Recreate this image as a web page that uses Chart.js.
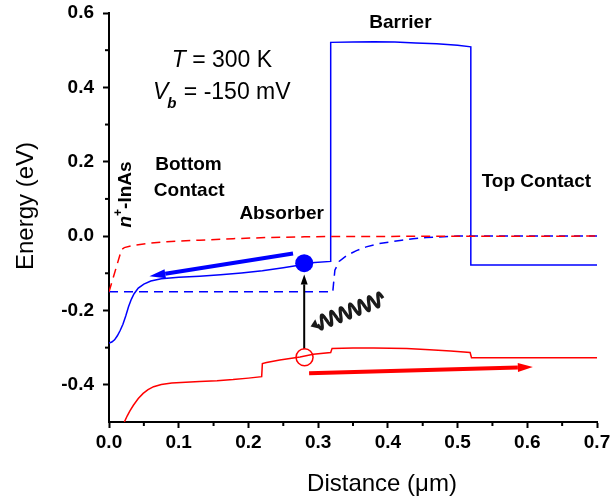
<!DOCTYPE html>
<html>
<head>
<meta charset="utf-8">
<script src="https://cdn.jsdelivr.net/npm/chart.js@4.4.1/dist/chart.umd.min.js"></script>
<style>
  body { margin: 0; background: #fff; }
  canvas { display: block; }
</style>
</head>
<body>
<canvas id="bandChart" width="611" height="501"></canvas>
<script>
const xTicks = [0, 0.1, 0.2, 0.3, 0.4, 0.5, 0.6, 0.7];
const yTicks = [-0.4, -0.2, 0, 0.2, 0.4, 0.6];
const xMinorTicks = [0.05, 0.15, 0.25, 0.35, 0.45, 0.55, 0.65];
const yMinorTicks = [-0.3, -0.1, 0.1, 0.3, 0.5];

// conduction band (blue solid)
const cbX = [0, 0.004, 0.008, 0.012, 0.016, 0.02, 0.024, 0.028, 0.032, 0.036, 0.042, 0.05, 0.06, 0.075, 0.1, 0.13, 0.16, 0.19, 0.22, 0.25, 0.27, 0.29, 0.318, 0.318, 0.35, 0.38, 0.41, 0.44, 0.47, 0.5, 0.519, 0.519, 0.7];
const cbY = [-0.288, -0.285, -0.279, -0.268, -0.254, -0.237, -0.215, -0.19, -0.17, -0.155, -0.14, -0.129, -0.121, -0.115, -0.111, -0.108, -0.104, -0.099, -0.093, -0.085, -0.079, -0.072, -0.068, 0.521, 0.522, 0.523, 0.522, 0.519, 0.517, 0.513, 0.509, -0.078, -0.078];

// electron quasi-Fermi level (blue dashed)
const efnX = [0, 0.321, 0.322, 0.324, 0.33, 0.341, 0.355, 0.369, 0.385, 0.402, 0.42, 0.436, 0.455, 0.47, 0.5, 0.7];
const efnY = [-0.15, -0.15, -0.13, -0.092, -0.068, -0.052, -0.039, -0.029, -0.021, -0.016, -0.011, -0.007, -0.004, -0.003, 0, 0];

// hole quasi-Fermi level (red dashed)
const efpX = [0, 0.018, 0.022, 0.035, 0.06, 0.083, 0.13, 0.178, 0.226, 0.28, 0.32, 0.7];
const efpY = [-0.15, -0.036, -0.031, -0.025, -0.019, -0.015, -0.011, -0.007, -0.004, -0.002, -0.001, 0];

// valence band (red solid)
const vbX = [0.022, 0.026, 0.03, 0.035, 0.042, 0.049, 0.056, 0.064, 0.075, 0.09, 0.11, 0.13, 0.155, 0.178, 0.2, 0.219, 0.22, 0.226, 0.245, 0.274, 0.293, 0.318, 0.32, 0.35, 0.38, 0.427, 0.46, 0.49, 0.518, 0.52, 0.7];
const vbY = [-0.5, -0.484, -0.47, -0.455, -0.437, -0.423, -0.413, -0.405, -0.399, -0.395, -0.393, -0.391, -0.389, -0.386, -0.382, -0.378, -0.343, -0.34, -0.333, -0.325, -0.318, -0.313, -0.302, -0.301, -0.301, -0.302, -0.306, -0.309, -0.313, -0.327, -0.327];

const BLUE = "#0000ff";
const RED = "#ff0000";
const FONT = "'Liberation Sans', Arial, sans-serif";

function toPoints(xs, ys) {
  return xs.map((x, i) => ({ x, y: ys[i] }));
}

function line(xs, ys, color, dash) {
  return {
    data: toPoints(xs, ys),
    showLine: true,
    borderColor: color,
    borderWidth: 1.5,
    borderDash: dash || [],
    pointRadius: 0,
    fill: false,
    tension: 0
  };
}

function arrow(ctx, x1, y1, x2, y2, width, headLen, headHalf, color) {
  const ang = Math.atan2(y2 - y1, x2 - x1);
  const bx = x2 - headLen * Math.cos(ang);
  const by = y2 - headLen * Math.sin(ang);
  ctx.save();
  ctx.strokeStyle = color;
  ctx.fillStyle = color;
  ctx.lineWidth = width;
  ctx.lineCap = "butt";
  ctx.beginPath();
  ctx.moveTo(x1, y1);
  ctx.lineTo(bx, by);
  ctx.stroke();
  ctx.beginPath();
  ctx.moveTo(x2, y2);
  ctx.lineTo(bx + headHalf * Math.sin(ang), by - headHalf * Math.cos(ang));
  ctx.lineTo(bx - headHalf * Math.sin(ang), by + headHalf * Math.cos(ang));
  ctx.closePath();
  ctx.fill();
  ctx.restore();
}

const annotations = {
  id: "annotations",
  afterDraw(chart) {
    const { ctx, chartArea } = chart;
    const sx = chart.scales.x;
    const sy = chart.scales.y;
    const px = (v) => sx.getPixelForValue(v);
    const py = (v) => sy.getPixelForValue(v);

    // minor ticks
    ctx.save();
    ctx.strokeStyle = "#000";
    ctx.lineWidth = 2;
    xMinorTicks.forEach((v) => {
      ctx.beginPath();
      ctx.moveTo(px(v), chartArea.bottom);
      ctx.lineTo(px(v), chartArea.bottom + 4);
      ctx.stroke();
    });
    yMinorTicks.forEach((v) => {
      ctx.beginPath();
      ctx.moveTo(chartArea.left, py(v));
      ctx.lineTo(chartArea.left - 4, py(v));
      ctx.stroke();
    });
    ctx.restore();

    // axis titles
    ctx.save();
    ctx.fillStyle = "#000";
    ctx.font = "24px " + FONT;
    ctx.textAlign = "center";
    ctx.textBaseline = "alphabetic";
    ctx.fillText("Distance (\u03bcm)", 382, 491);
    ctx.translate(33, 206);
    ctx.rotate(-Math.PI / 2);
    ctx.fillText("Energy (eV)", 0, 0);
    ctx.restore();

    // excitation arrow, photon, carriers
    arrow(ctx, px(0.28), py(-0.304), px(0.28), py(-0.103), 2, 10, 3.5, "#000");

    ctx.save();
    ctx.fillStyle = BLUE;
    ctx.beginPath();
    ctx.arc(px(0.28), py(-0.073), 9, 0, Math.PI * 2);
    ctx.fill();
    ctx.strokeStyle = RED;
    ctx.lineWidth = 1.5;
    ctx.beginPath();
    ctx.arc(px(0.2805), py(-0.326), 8.5, 0, Math.PI * 2);
    ctx.stroke();
    ctx.restore();

    arrow(ctx, px(0.264), py(-0.047), px(0.058), py(-0.108), 4, 16, 4.5, BLUE);
    arrow(ctx, px(0.287), py(-0.369), px(0.608), py(-0.352), 4, 15, 4.5, RED);

    // photon squiggle
    const a0 = { x: px(0.393), y: py(-0.167) };
    const a1 = { x: px(0.2985), y: py(-0.236) };
    const len = Math.hypot(a1.x - a0.x, a1.y - a0.y);
    const ux = (a1.x - a0.x) / len;
    const uy = (a1.y - a0.y) / len;
    ctx.save();
    ctx.strokeStyle = "#1a1a1a";
    ctx.lineWidth = 3.2;
    ctx.lineJoin = "round";
    ctx.beginPath();
    for (let t = 0; t <= len; t += 0.5) {
      const off = 6.5 * Math.sin((t / len) * Math.PI * 2 * 7);
      const qx = a0.x + ux * t - uy * off;
      const qy = a0.y + uy * t + ux * off;
      if (t === 0) ctx.moveTo(qx, qy); else ctx.lineTo(qx, qy);
    }
    ctx.stroke();
    ctx.fillStyle = "#1a1a1a";
    ctx.beginPath();
    ctx.moveTo(a1.x + ux * 7, a1.y + uy * 7);
    ctx.lineTo(a1.x - uy * 5, a1.y + ux * 5);
    ctx.lineTo(a1.x + uy * 5, a1.y - ux * 5);
    ctx.closePath();
    ctx.fill();
    ctx.restore();

    // labels
    ctx.save();
    ctx.fillStyle = "#000";
    ctx.textBaseline = "alphabetic";
    ctx.textAlign = "center";
    ctx.font = "bold 19px " + FONT;
    ctx.fillText("Barrier", px(0.418), py(0.559));
    ctx.fillText("Bottom", px(0.114), py(0.178));
    ctx.fillText("Contact", px(0.115), py(0.109));
    ctx.fillText("Absorber", px(0.2476), py(0.047));
    ctx.fillText("Top Contact", px(0.613), py(0.133));

    ctx.textAlign = "left";
    let cx = px(0.09);
    const tBase = py(0.454);
    ctx.font = "italic 23px " + FONT;
    ctx.fillText("T", cx, tBase);
    cx += ctx.measureText("T").width;
    ctx.font = "23px " + FONT;
    ctx.fillText(" = 300 K", cx, tBase);

    cx = px(0.063);
    const vBase = py(0.369);
    ctx.font = "italic 23px " + FONT;
    ctx.fillText("V", cx, vBase);
    cx += ctx.measureText("V").width;
    ctx.font = "bold italic 15px " + FONT;
    ctx.fillText("b", cx - 1, vBase + 9);
    cx += ctx.measureText("b").width;
    ctx.font = "23px " + FONT;
    ctx.fillText(" = -150 mV", cx, vBase);

    // n+-InAs, rotated
    ctx.translate(px(0.0315), py(0.023));
    ctx.rotate(-Math.PI / 2);
    let rx = 0;
    ctx.font = "bold italic 19px " + FONT;
    ctx.fillText("n", rx, 0);
    rx += ctx.measureText("n").width;
    ctx.font = "bold 12px " + FONT;
    ctx.fillText("+", rx, -9);
    rx += ctx.measureText("+").width;
    ctx.font = "bold 19px " + FONT;
    ctx.fillText("-InAs", rx, 0);
    ctx.restore();
  }
};

function axisOptions(min, max, tickValues, fitKey, fitSize, labelPad) {
  return {
    type: "linear",
    min,
    max,
    afterBuildTicks: (scale) => {
      scale.ticks = tickValues.map((value) => ({ value }));
    },
    afterFit: (scale) => {
      scale[fitKey] = fitSize;
      scale.paddingLeft = 0;
      scale.paddingRight = 0;
      scale.paddingTop = 0;
      scale.paddingBottom = 0;
    },
    ticks: {
      color: "#000",
      font: { family: FONT, size: 19, weight: "bold" },
      padding: labelPad,
      maxRotation: 0,
      autoSkip: false,
      callback: (value) => Number(value).toFixed(1)
    },
    grid: {
      drawOnChartArea: false,
      drawTicks: true,
      tickLength: 6,
      tickWidth: 2,
      tickColor: "#000"
    },
    border: { display: true, color: "#000", width: 2 }
  };
}

new Chart(document.getElementById("bandChart").getContext("2d"), {
  type: "scatter",
  data: {
    datasets: [
      line(efpX, efpY, RED, [9, 6]),
      line(efnX, efnY, BLUE, [9, 6]),
      line(vbX, vbY, RED),
      line(cbX, cbY, BLUE)
    ]
  },
  options: {
    responsive: false,
    animation: false,
    layout: { padding: { top: 13, right: 14, left: 0, bottom: 0 } },
    plugins: {
      legend: { display: false },
      tooltip: { enabled: false }
    },
    scales: {
      x: axisOptions(0, 0.7, xTicks, "height", 79, 3),
      y: axisOptions(-0.5, 0.6, yTicks, "width", 109, 9)
    }
  },
  plugins: [annotations]
});
</script>
</body>
</html>
